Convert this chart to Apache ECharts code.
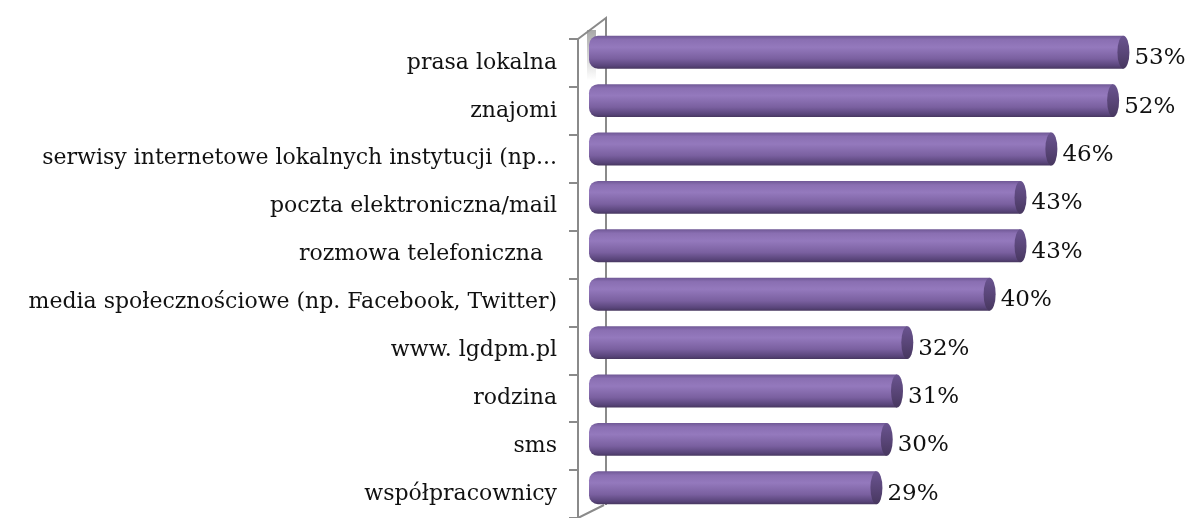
<!DOCTYPE html>
<html>
<head>
<meta charset="utf-8">
<script src="https://cdn.jsdelivr.net/npm/echarts@6/dist/echarts.min.js"></script>
<style>
  html, body { margin: 0; padding: 0; background: #fff; }
  #chart { width: 1192px; height: 518px; }
</style>
</head>
<body>
<div id="chart"></div>
<script>
const categories = [
  'prasa lokalna',
  'znajomi',
  'serwisy internetowe lokalnych instytucji (np...',
  'poczta elektroniczna/mail',
  'rozmowa telefoniczna  ',
  'media społecznościowe (np. Facebook, Twitter)',
  'www. lgdpm.pl',
  'rodzina',
  'sms',
  'współpracownicy'
];
const values = [53, 52, 46, 43, 43, 40, 32, 31, 30, 29];
const xMax = 55;

const FONT = '"DejaVu Serif", serif';
const wallColor = '#8a8a8a';

const bodyGrad = new echarts.graphic.LinearGradient(0, 0, 0, 1, [
  { offset: 0, color: '#6f5895' },
  { offset: 0.12, color: '#8a6fb2' },
  { offset: 0.35, color: '#9479bd' },
  { offset: 0.7, color: '#7a60a0' },
  { offset: 0.92, color: '#584479' },
  { offset: 1, color: '#47375f' }
]);
const capGrad = new echarts.graphic.LinearGradient(0, 0, 0, 1, [
  { offset: 0, color: '#6a5490' },
  { offset: 0.5, color: '#5a4679' },
  { offset: 1, color: '#47375f' }
]);

function renderBar (params, api) {
  const v = api.value(0);
  const i = api.value(1);
  const start = api.coord([0, i]);
  const end = api.coord([v, i]);
  const h = api.size([0, 1])[1] * 0.68;
  const x0 = start[0] + 11;
  const cy = end[1];
  const rx = 6;
  return {
    type: 'group',
    children: [
      {
        type: 'rect',
        shape: { x: x0, y: cy - h / 2, width: end[0] - x0, height: h, r: [9, 0, 0, 9] },
        style: { fill: bodyGrad }
      },
      {
        type: 'circle',
        x: end[0],
        y: cy,
        scaleX: rx / (h / 2),
        shape: { cx: 0, cy: 0, r: h / 2 },
        style: { fill: capGrad }
      },
      {
        type: 'text',
        style: {
          text: v + '%',
          x: end[0] + rx + 5,
          y: cy + 6,
          verticalAlign: 'middle',
          fontFamily: FONT,
          fontSize: 23,
          fill: '#111'
        }
      }
    ]
  };
}

const chart = echarts.init(document.getElementById('chart'));
chart.setOption({
  animation: false,
  grid: [
    { left: 578, top: 39, width: 566, height: 484 },
    { left: 578, top: 28, width: 566, height: 484 }
  ],
  xAxis: [
    { gridIndex: 0, type: 'value', min: 0, max: xMax, show: false },
    { gridIndex: 1, type: 'value', min: 0, max: xMax, show: false }
  ],
  yAxis: [
    {
      gridIndex: 0,
      type: 'category',
      inverse: true,
      data: categories,
      axisLine: { show: true, lineStyle: { color: wallColor, width: 2 } },
      axisTick: { show: true, length: 9, lineStyle: { color: wallColor, width: 2 } },
      axisLabel: { margin: 21, fontFamily: FONT, fontSize: 22, color: '#111' }
    },
    {
      gridIndex: 1,
      type: 'category',
      inverse: true,
      data: categories,
      show: false
    }
  ],
  graphic: [
    {
      type: 'rect',
      shape: { x: 587, y: 30, width: 9, height: 50 },
      style: {
        fill: new echarts.graphic.LinearGradient(0, 0, 0, 1, [
          { offset: 0, color: 'rgba(110,110,110,0.6)' },
          { offset: 1, color: 'rgba(110,110,110,0)' }
        ])
      },
      z: 0
    },
    {
      type: 'polyline',
      shape: { points: [[578, 39], [606, 18], [606, 505]] },
      style: { stroke: wallColor, lineWidth: 2, fill: null },
      z: 0
    },
    {
      type: 'line',
      shape: { x1: 578, y1: 518, x2: 604, y2: 505 },
      style: { stroke: wallColor, lineWidth: 2 },
      z: 0
    }
  ],
  series: [
    {
      type: 'custom',
      xAxisIndex: 1,
      yAxisIndex: 1,
      data: values.map((v, i) => [v, i]),
      encode: { x: 0, y: 1 },
      renderItem: renderBar,
      z: 5
    }
  ]
});
</script>
</body>
</html>
